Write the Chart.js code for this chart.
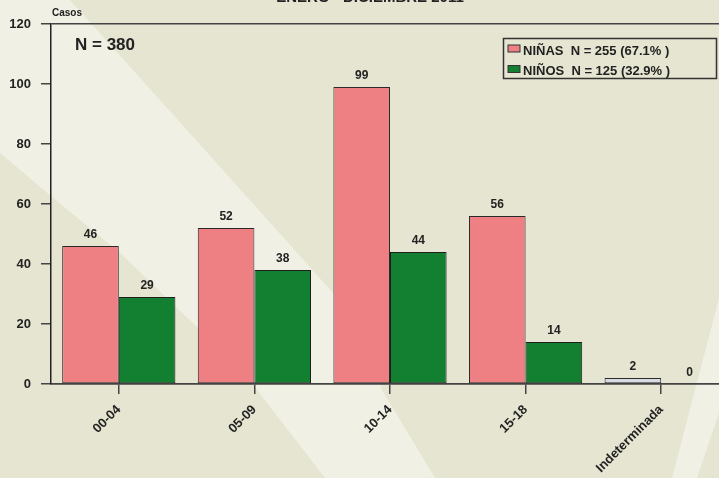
<!DOCTYPE html>
<html>
<head>
<meta charset="utf-8">
<script src="https://cdn.jsdelivr.net/npm/chart.js@4"></script>
<style>
  html, body { margin: 0; padding: 0; overflow: hidden; background: #e6e5d1; }
  canvas { display: block; }
</style>
</head>
<body>
<canvas id="grafica" width="729" height="478"></canvas>
<script>
const categorias = ["00-04", "05-09", "10-14", "15-18", "Indeterminada"];
const ninas = [46, 52, 99, 56, 2];
const ninos = [29, 38, 44, 14, 0];
const etiquetasSerie = ["NIÑAS  N = 255 (67.1% )", "NIÑOS  N = 125 (32.9% )"];
const ticksY = [0, 20, 40, 60, 80, 100, 120];
const titulo = "ENERO - DICIEMBRE 2011";
const totalTexto = "N = 380";
const tituloEje = "Casos";

const FUENTE = "'Liberation Sans', Arial, sans-serif";
const ROSA = "#ee8083";
const VERDE = "#128030";
const GRIS = "#d9dae3";

Chart.defaults.font.family = FUENTE;
Chart.defaults.color = "#222";

// fondo con los haces de luz
const fondo = {
  id: "fondo",
  beforeDraw(chart) {
    const c = chart.ctx;
    c.save();
    c.fillStyle = "#e6e5d1";
    c.fillRect(0, 0, chart.width, chart.height);
    c.fillStyle = "#f0f0e4";
    const haz = [[0,0],[70,0],[205,150],[360,323],[382,390],[435,478],
                 [325,478],[253,385],[200,330],[120,253],[52,197],[0,153]];
    c.beginPath();
    haz.forEach(([x, y], i) => i ? c.lineTo(x, y) : c.moveTo(x, y));
    c.closePath();
    c.fill();
    c.beginPath();
    c.moveTo(719, 298); c.lineTo(730, 298); c.lineTo(730, 380);
    c.lineTo(697, 478); c.lineTo(672, 478);
    c.closePath();
    c.fill();
    c.restore();
  }
};

// textos, leyenda y valores sobre las barras
const textos = {
  id: "textos",
  afterDraw(chart) {
    const c = chart.ctx;
    c.save();
    c.fillStyle = "#222";
    c.textAlign = "center";
    c.textBaseline = "alphabetic";
    c.font = "bold 15px " + FUENTE;
    c.fillText(titulo, 370, 2);

    c.textAlign = "left";
    c.font = "bold 10px " + FUENTE;
    c.fillText(tituloEje, 52, 16);
    c.font = "bold 17px " + FUENTE;
    c.fillText(totalTexto, 75, 50);

    // valores
    c.textAlign = "center";
    c.font = "bold 12px " + FUENTE;
    chart.data.datasets.forEach((ds, i) => {
      chart.getDatasetMeta(i).data.forEach((bar, j) => {
        c.fillText(String(ds.data[j]), bar.x, bar.y - 8);
      });
    });

    // leyenda
    c.strokeStyle = "#333";
    c.lineWidth = 1.5;
    c.strokeRect(503.5, 38.5, 213, 40);
    c.font = "bold 13px " + FUENTE;
    c.textAlign = "left";
    chart.data.datasets.forEach((ds, i) => {
      const y = 45 + i * 20.5;
      c.fillStyle = Array.isArray(ds.backgroundColor) ? ds.backgroundColor[0] : ds.backgroundColor;
      c.fillRect(508, y, 12, 7);
      c.lineWidth = 1;
      c.strokeRect(508, y, 12, 7);
      c.fillStyle = "#222";
      c.fillText(ds.label, 523, y + 9.5);
    });
    c.restore();
  }
};

new Chart(document.getElementById("grafica"), {
  type: "bar",
  data: {
    labels: categorias,
    datasets: [
      {
        label: etiquetasSerie[0],
        data: ninas,
        backgroundColor: ninas.map((v, i) => i === categorias.length - 1 ? GRIS : ROSA),
        borderColor: "#2a2a2a",
        borderWidth: 1,
        borderSkipped: false,
        barPercentage: 1,
        categoryPercentage: 0.835,
      },
      {
        label: etiquetasSerie[1],
        data: ninos,
        backgroundColor: VERDE,
        borderColor: "#1e1e1e",
        borderWidth: 1,
        borderSkipped: false,
        barPercentage: 1,
        categoryPercentage: 0.835,
      },
    ],
  },
  options: {
    responsive: false,
    animation: false,
    layout: { padding: { top: 24, left: 0, right: 0, bottom: 0 } },
    plugins: { legend: { display: false }, tooltip: { enabled: false } },
    scales: {
      x: {
        afterFit: (s) => { s.height = 94; },
        border: { color: "#444", width: 1.5 },
        grid: { offset: false, drawOnChartArea: false, tickLength: 10, tickColor: "#444", lineWidth: 1.5 },
        ticks: { minRotation: 45, maxRotation: 45, padding: 8, font: { size: 13, weight: "bold" }, color: "#222" },
      },
      y: {
        min: 0,
        max: 120,
        afterFit: (s) => { s.width = 51; },
        afterBuildTicks: (s) => { s.ticks = ticksY.map((v) => ({ value: v })); },
        border: { color: "#222", width: 1.5 },
        grid: {
          tickLength: 10,
          tickColor: "#444",
          lineWidth: 1.5,
          color: (ctx) => (ctx.tick && (ctx.tick.value === 0 || ctx.tick.value === 120)) ? "#444" : "rgba(0,0,0,0)",
        },
        ticks: { padding: 10, font: { size: 13, weight: "bold" }, color: "#222" },
      },
    },
  },
  plugins: [fondo, textos],
});
</script>
</body>
</html>
